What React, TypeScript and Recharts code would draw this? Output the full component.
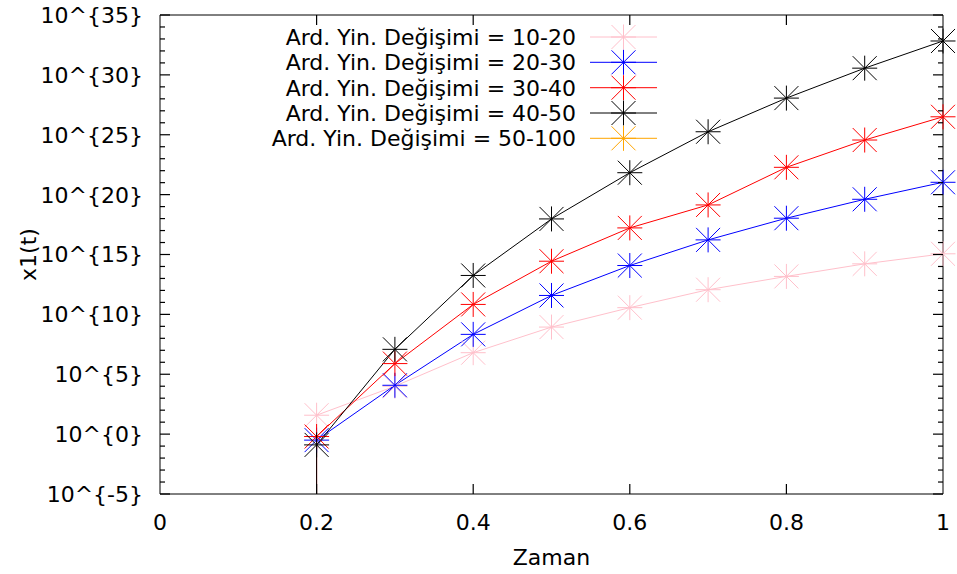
import { LineChart, Line, XAxis, YAxis, Legend } from "recharts";

// time axis
const ZAMAN = [0.2, 0.3, 0.4, 0.5, 0.6, 0.7, 0.8, 0.9, 1.0];

// x1(t) as a power of ten (the plot is log scale)
const ARD_10_20 = [1.58, 4.0, 6.8, 8.94, 10.56, 12.06, 13.17, 14.22, 15.06];
const ARD_20_30 = [-0.5, 4.08, 8.33, 11.58, 14.08, 16.22, 18.03, 19.61, 21.03];
const ARD_30_40 = [-0.2, 5.89, 10.83, 14.44, 17.22, 19.14, 22.28, 24.56, 26.5];
const ARD_40_50 = [-0.9, 7.08, 13.25, 17.97, 21.83, 25.25, 28.06, 30.56, 32.83];
const ARD_50_100: number[] = [];

// the 30-40 / 40-50 runs fall through the bottom of the plot at t = 0.2
const DROP_T = 0.2;
const DROP_EXP = -5;

const X_TICKS = [0, 0.2, 0.4, 0.6, 0.8, 1];
const Y_TICKS = Array.from({ length: 41 }, (_, i) => i - 5);

const FONT = "'DejaVu Sans', Verdana, sans-serif";
const FS = 22;

type Pt = { x: number; y: number };

const build = (ys: number[], drop = false): Pt[] => {
  const pts = ys.map((y, i) => ({ x: ZAMAN[i], y }));
  return drop ? [{ x: DROP_T, y: DROP_EXP }, ...pts] : pts;
};

// the mirrored (top / right) axes only get ticks when a series is bound to them,
// so the 10-20 curve is plotted against them; their scales are identical
const SERIES = [
  { name: "Ard. Yin. Değişimi = 10-20", color: "#ffc0cb", data: build(ARD_10_20), mirror: true },
  { name: "Ard. Yin. Değişimi = 20-30", color: "#0000ff", data: build(ARD_20_30), mirror: false },
  { name: "Ard. Yin. Değişimi = 30-40", color: "#ff0000", data: build(ARD_30_40, true), mirror: false },
  { name: "Ard. Yin. Değişimi = 40-50", color: "#000000", data: build(ARD_40_50, true), mirror: false },
  { name: "Ard. Yin. Değişimi = 50-100", color: "#ffa500", data: build(ARD_50_100), mirror: false },
];

function Star({ cx, cy, color }: { cx: number; cy: number; color: string }) {
  const s = 12.5;
  const d = 12;
  return (
    <g stroke={color} strokeWidth={1} fill="none">
      <line x1={cx - s} y1={cy} x2={cx + s} y2={cy} />
      <line x1={cx} y1={cy - s} x2={cx} y2={cy + s} />
      <line x1={cx - d} y1={cy - d} x2={cx + d} y2={cy + d} />
      <line x1={cx - d} y1={cy + d} x2={cx + d} y2={cy - d} />
    </g>
  );
}

// gnuplot-style inward ticks, labels only on the majors
const tickPath = (x1: number, y1: number, x2: number, y2: number) => (
  <path d={`M${x1},${y1}L${x2},${y2}`} stroke="#000" strokeWidth={1.2} fill="none" />
);

function LeftTick(props: any) {
  const { x, y, payload } = props;
  const major = payload.value % 5 === 0;
  return (
    <g>
      {tickPath(x, y, x + (major ? 10 : 5), y)}
      {major && (
        <text x={x - 17} y={y} dy="0.36em" textAnchor="end" fontFamily={FONT} fontSize={FS} fill="#000">
          {"10^{" + payload.value + "}"}
        </text>
      )}
    </g>
  );
}

function RightTick(props: any) {
  const { x, y, payload } = props;
  const major = payload.value % 5 === 0;
  return <g>{tickPath(x, y, x - (major ? 10 : 5), y)}</g>;
}

function BottomTick(props: any) {
  const { x, y, payload } = props;
  return (
    <g>
      {payload.value > 0 && payload.value < 1 && tickPath(x, y, x, y - 10)}
      <text x={x} y={y + 28} dy="0.36em" textAnchor="middle" fontFamily={FONT} fontSize={FS} fill="#000">
        {String(payload.value)}
      </text>
    </g>
  );
}

function TopTick(props: any) {
  const { x, y, payload } = props;
  if (payload.value <= 0 || payload.value >= 1) return <g />;
  return <g>{tickPath(x, y, x, y + 10)}</g>;
}

function KeyBox() {
  const rowY = [37, 62.3, 87.7, 113, 138.3];
  return (
    <svg width={957} height={160} style={{ display: "block" }}>
      {SERIES.map((s, i) => (
        <g key={s.name}>
          <text x={576} y={rowY[i]} dy="0.36em" textAnchor="end" fontFamily={FONT} fontSize={FS} fill="#000">
            {s.name}
          </text>
          <line x1={590} y1={rowY[i]} x2={657} y2={rowY[i]} stroke={s.color} strokeWidth={1} />
          <Star cx={623.5} cy={rowY[i]} color={s.color} />
        </g>
      ))}
    </svg>
  );
}

export default function App() {
  return (
    <div style={{ position: "absolute", left: 0, top: 0, width: 957, height: 574, background: "#fff" }}>
      <LineChart width={957} height={574} margin={{ top: 14, right: 0, bottom: 0, left: 0 }}>
        <XAxis
          dataKey="x"
          type="number"
          domain={[0, 1]}
          ticks={X_TICKS}
          interval={0}
          height={80}
          tickSize={0}
          tickMargin={0}
          tickLine={false}
          axisLine={{ stroke: "#000" }}
          tick={(p: any) => <BottomTick {...p} />}
          label={{
            content: (p: any) => {
              const vb = p.viewBox;
              return (
                <text x={vb.x + vb.width / 2} y={vb.y + 63} dy="0.36em" textAnchor="middle" fontFamily={FONT} fontSize={FS} fill="#000">
                  Zaman
                </text>
              );
            },
          }}
        />
        <XAxis
          xAxisId="top"
          orientation="top"
          dataKey="x"
          type="number"
          domain={[0, 1]}
          ticks={X_TICKS}
          interval={0}
          height={1}
          tickSize={0}
          tickMargin={0}
          tickLine={false}
          axisLine={{ stroke: "#000" }}
          tick={(p: any) => <TopTick {...p} />}
        />
        <YAxis
          type="number"
          domain={[-5, 35]}
          ticks={Y_TICKS}
          interval={0}
          width={160}
          tickSize={0}
          tickMargin={0}
          tickLine={false}
          axisLine={{ stroke: "#000" }}
          tick={(p: any) => <LeftTick {...p} />}
          label={{
            content: (p: any) => {
              const vb = p.viewBox;
              const cx = 28;
              const cy = vb.y + vb.height / 2;
              return (
                <text x={cx} y={cy} dy="0.36em" textAnchor="middle" transform={`rotate(-90 ${cx} ${cy})`} fontFamily={FONT} fontSize={FS} fill="#000">
                  x1(t)
                </text>
              );
            },
          }}
        />
        <YAxis
          yAxisId="right"
          orientation="right"
          type="number"
          domain={[-5, 35]}
          ticks={Y_TICKS}
          interval={0}
          width={14}
          tickSize={0}
          tickMargin={0}
          tickLine={false}
          axisLine={{ stroke: "#000" }}
          tick={(p: any) => <RightTick {...p} />}
        />
        <Legend
          layout="vertical"
          align="center"
          verticalAlign="middle"
          wrapperStyle={{ position: "absolute", left: 0, top: 0, width: 957, height: 160, pointerEvents: "none" }}
          content={() => <KeyBox />}
        />
        {SERIES.map((s) => (
          <Line
            key={s.name}
            data={s.data}
            dataKey="y"
            name={s.name}
            type="linear"
            xAxisId={s.mirror ? "top" : 0}
            yAxisId={s.mirror ? "right" : 0}
            stroke={s.color}
            strokeWidth={1}
            isAnimationActive={false}
            dot={(p: any) =>
              p.payload.y <= DROP_EXP ? (
                <g key={p.index} />
              ) : (
                <Star key={p.index} cx={p.cx} cy={p.cy} color={s.color} />
              )
            }
            activeDot={false}
          />
        ))}
      </LineChart>
    </div>
  );
}
